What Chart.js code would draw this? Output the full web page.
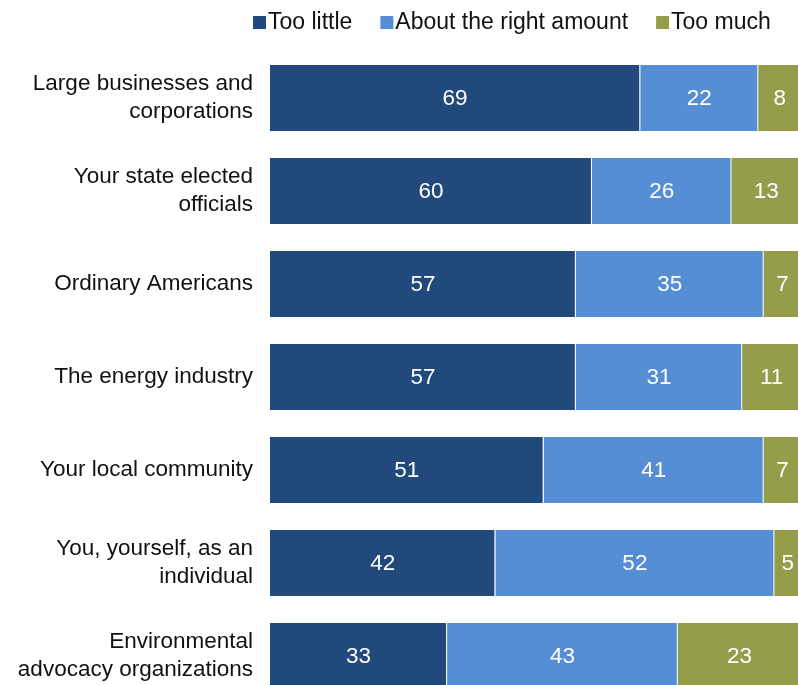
<!DOCTYPE html>
<html>
<head>
<meta charset="utf-8">
<script src="https://cdn.jsdelivr.net/npm/chart.js@4.4.1/dist/chart.umd.min.js"></script>
<style>
  html, body { margin: 0; padding: 0; overflow: hidden; background: #fff; }
  #wrap { width: 798px; height: 720px; }
</style>
</head>
<body>
<div id="wrap"><canvas id="c" width="798" height="720"></canvas></div>
<script>
// Survey categories (multi-line tick labels)
const categories = [
  ['Large businesses and', 'corporations'],
  ['Your state elected', 'officials'],
  'Ordinary Americans',
  'The energy industry',
  'Your local community',
  ['You, yourself, as an', 'individual'],
  ['Environmental', 'advocacy organizations']
];
const seriesNames = ['Too little', 'About the right amount', 'Too much'];
const tooLittle   = [69, 60, 57, 57, 51, 42, 33];
const rightAmount = [22, 26, 35, 31, 41, 52, 43];
const tooMuch     = [8, 13, 7, 11, 7, 5, 23];

const colors = ['#21497B', '#558ED5', '#969D4A'];
const FONT = '"Liberation Sans", Arial, sans-serif';

// White value labels centred inside every segment
const valueLabels = {
  id: 'valueLabels',
  afterDatasetsDraw(chart) {
    const ctx = chart.ctx;
    ctx.save();
    ctx.font = '22.5px ' + FONT;
    ctx.fillStyle = '#ffffff';
    ctx.textAlign = 'center';
    ctx.textBaseline = 'middle';
    chart.data.datasets.forEach((ds, i) => {
      chart.getDatasetMeta(i).data.forEach((el, j) => {
        const c = el.getCenterPoint();
        ctx.fillText(String(ds.data[j]), c.x, c.y + 1);
      });
    });
    ctx.restore();
  }
};

// Compact legend row above the bars
const topLegend = {
  id: 'topLegend',
  afterDraw(chart) {
    const ctx = chart.ctx;
    ctx.save();
    ctx.font = '23px ' + FONT;
    ctx.textBaseline = 'middle';
    ctx.textAlign = 'left';
    let x = 253;
    const y = 22;
    chart.data.datasets.forEach((ds) => {
      ctx.fillStyle = ds.backgroundColor;
      ctx.fillRect(x, y - 6, 13, 13);
      ctx.fillStyle = '#111111';
      ctx.fillText(ds.label, x + 15, y + 1);
      x += 15 + ctx.measureText(ds.label).width + 28;
    });
    ctx.restore();
  }
};

const datasets = [tooLittle, rightAmount, tooMuch].map((vals, i) => ({
  label: seriesNames[i],
  data: vals,
  backgroundColor: colors[i],
  borderColor: 'rgba(255,255,255,0.35)',
  borderWidth: { left: 0, top: 0, bottom: 0, right: i < 2 ? 1 : 0 },
  borderSkipped: false,
  categoryPercentage: 1,
  barPercentage: 0.71
}));

new Chart(document.getElementById('c'), {
  type: 'bar',
  data: { labels: categories, datasets },
  options: {
    indexAxis: 'y',
    responsive: false,
    animation: false,
    layout: { padding: { top: 51.5, bottom: 17.5, left: 0, right: 0 } },
    plugins: {
      legend: { display: false },
      tooltip: { enabled: false }
    },
    scales: {
      x: {
        stacked: true,
        min: 0,
        max: 98.4,
        display: false
      },
      y: {
        stacked: true,
        grid: { display: false },
        border: { display: false },
        ticks: {
          padding: 9,
          color: '#111111',
          font: { family: FONT, size: 22.5, lineHeight: 1.25 }
        },
        afterFit(scale) {
          scale.width = 270;
          // let the multi-line end labels overhang instead of shrinking the plot
          scale.paddingTop = 0;
          scale.paddingBottom = 0;
        }
      }
    }
  },
  plugins: [valueLabels, topLegend]
});
</script>
</body>
</html>
